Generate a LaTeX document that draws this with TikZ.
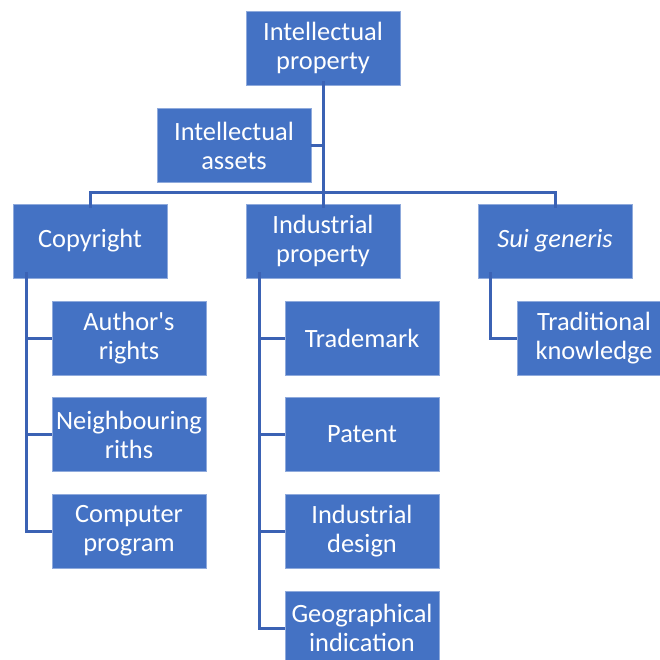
\documentclass[tikz,border=0pt]{standalone}
\usepackage{fontspec}
\setmainfont{Carlito}
\newfontfamily\plainquote{Carlito}
\usepackage{tikz}
\definecolor{box-fill}{HTML}{4472C4}
\definecolor{box-edge}{HTML}{8FAADC}
\definecolor{link-line}{HTML}{3B62B4}
\usetikzlibrary{positioning}
\tikzset{
  box/.style={rectangle,draw=box-edge,line width=.6pt,fill=box-fill,text=white,
    minimum width=154pt,minimum height=74pt,inner sep=1pt,align=center,
    font=\fontsize{26.4}{29}\selectfont},
  link/.style={draw=link-line,line width=3pt}
}
\begin{document}
\begin{tikzpicture}[x=1pt,y=-1pt]
\useasboundingbox (0,0) rectangle (660,659);
\path
(323,48)    node[box] (ip) {Intellectual\\property}
(234,145.5) node[box] (ia) {Intellectual\\assets}
(90,241)    node[box] (cr) {Copyright}
(323,241)   node[box] (indp) {Industrial\\property}
(555,241)   node[box] (sg) {\itshape Sui generis}
(129,338)   node[box] (ar) {Author{\plainquote'}s\\rights}
+(0,96.5)   node[box] (nr) {Neighbouring\\riths}
+(0,193)    node[box] (cp) {Computer\\program}
(362,338)   node[box] (tm) {Trademark}
+(0,96.5)   node[box] (pt) {Patent}
+(0,193)    node[box] (id) {Industrial\\design}
+(0,290)    node[box] (gi) {Geographical\\indication}
(594,338)   node[box] (tk) {Traditional\\knowledge};
\coordinate (bus) at (323,192);
\draw[link] ([yshift=4pt]ip.south) -- (bus);
\draw[link] (ia.east) -- (ia.east -| bus);
\draw[link] ([yshift=-4pt]cr.north) |- (bus) -| ([yshift=-4pt]sg.north);
\draw[link] (bus) -- ([yshift=-4pt]indp.north);
\draw[link] ([xshift=14pt,yshift=6pt]cr.south west) |- (ar.west);
\draw[link] ([xshift=14pt,yshift=6pt]cr.south west) |- (nr.west);
\draw[link] ([xshift=14pt,yshift=6pt]cr.south west) |- (cp.west);
\draw[link] ([xshift=14pt,yshift=6pt]indp.south west) |- (tm.west);
\draw[link] ([xshift=14pt,yshift=6pt]indp.south west) |- (pt.west);
\draw[link] ([xshift=14pt,yshift=6pt]indp.south west) |- (id.west);
\draw[link] ([xshift=14pt,yshift=6pt]indp.south west) |- (gi.west);
\draw[link] ([xshift=13pt,yshift=6pt]sg.south west) |- (tk.west);
\end{tikzpicture}
\end{document}
